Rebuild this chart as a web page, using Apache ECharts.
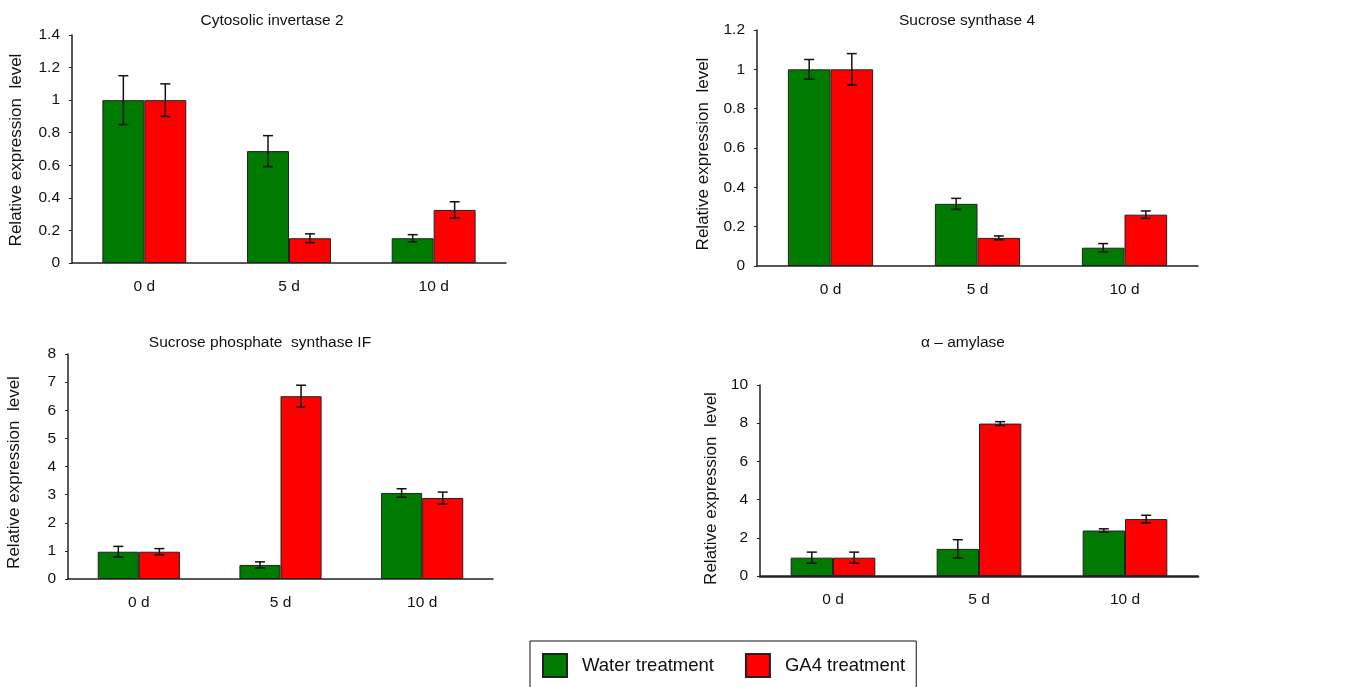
<!DOCTYPE html>
<html>
<head>
<meta charset="utf-8">
<script src="https://cdn.jsdelivr.net/npm/echarts@6/dist/echarts.min.js"></script>
<style>
html,body{margin:0;padding:0;background:#fff;}
#chart{width:1348px;height:687px;}
</style>
</head>
<body>
<div id="chart"></div>
<script>
const categories = ['0 d', '5 d', '10 d'];
const seriesNames = ['Water treatment', 'GA4 treatment'];
const titles = ['Cytosolic invertase 2', 'Sucrose synthase 4', 'Sucrose phosphate  synthase IF', '\u03b1 \u2013 amylase'];
const yName = 'Relative expression  level';

// Cytosolic invertase 2
const invWater = [1.0, 0.687, 0.152];
const invWaterSd = [0.15, 0.095, 0.022];
const invGA4 = [1.0, 0.152, 0.326];
const invGA4Sd = [0.10, 0.027, 0.05];
// Sucrose synthase 4
const susWater = [1.0, 0.316, 0.093];
const susWaterSd = [0.05, 0.028, 0.021];
const susGA4 = [1.0, 0.143, 0.261];
const susGA4Sd = [0.08, 0.01, 0.019];
// Sucrose phosphate synthase IF
const spsWater = [0.97, 0.5, 3.06];
const spsWaterSd = [0.19, 0.11, 0.15];
const spsGA4 = [0.97, 6.5, 2.88];
const spsGA4Sd = [0.11, 0.39, 0.21];
// alpha-amylase
const amyWater = [0.96, 1.42, 2.38];
const amyWaterSd = [0.29, 0.48, 0.09];
const amyGA4 = [0.96, 7.98, 2.98];
const amyGA4Sd = [0.29, 0.1, 0.2];

// y axis ranges
const yMax = [1.4, 1.2, 8, 10];
const yInterval = [0.2, 0.2, 1, 2];

const panels = [
  [invWater, invWaterSd, invGA4, invGA4Sd],
  [susWater, susWaterSd, susGA4, susGA4Sd],
  [spsWater, spsWaterSd, spsGA4, spsGA4Sd],
  [amyWater, amyWaterSd, amyGA4, amyGA4Sd]
];

const gridPos = [
  {left: 72, top: 35, width: 434, height: 228},
  {left: 757, top: 30, width: 441, height: 236},
  {left: 68, top: 354, width: 425, height: 225},
  {left: 760, top: 385, width: 438, height: 191}
];
const titlePos = [[267, 8], [962, 8], [255, 330], [958, 330]];
const nameGaps = [47, 45, 45, 40];
const namePad = [[0, 2, 0, 0], [0, 12, 0, 0], [0, 12, 0, 0], [0, 16, 0, 0]];
const colors = ['#007a00', '#ff0000'];
const FONT = '"Liberation Sans", Arial, sans-serif';

function errRender(sign) {
  return function (params, api) {
    const x = api.value(0);
    const lo = api.coord([x, api.value(1)]);
    const hi = api.coord([x, api.value(2)]);
    const bw = api.size([1, 0])[0];
    const cx = lo[0] + sign * bw * 0.145;
    const cap = 5;
    const st = {stroke: '#111', lineWidth: 1.5};
    return {
      type: 'group',
      children: [
        {type: 'line', shape: {x1: cx, y1: hi[1], x2: cx, y2: lo[1]}, style: st},
        {type: 'line', shape: {x1: cx - cap, y1: hi[1], x2: cx + cap, y2: hi[1]}, style: st},
        {type: 'line', shape: {x1: cx - cap, y1: lo[1], x2: cx + cap, y2: lo[1]}, style: st}
      ]
    };
  };
}

const grid = [], xAxis = [], yAxis = [], series = [], title = [];
panels.forEach(function (p, i) {
  grid.push(Object.assign({containLabel: false}, gridPos[i]));
  title.push({
    text: titles[i], left: titlePos[i][0], top: titlePos[i][1], textAlign: 'center',
    textStyle: {fontFamily: FONT, fontSize: 15.5, fontWeight: 'normal', color: '#111'}
  });
  xAxis.push({
    type: 'category', gridIndex: i, data: categories,
    axisLine: {lineStyle: {color: '#222', width: i === 3 ? 2.5 : 1.5}},
    axisTick: {inside: true, length: 6, lineStyle: {color: '#222', width: 1.2}},
    axisLabel: {fontFamily: FONT, fontSize: 15.5, color: '#111', margin: 16}
  });
  yAxis.push({
    type: 'value', gridIndex: i, min: 0, max: yMax[i], interval: yInterval[i],
    name: yName, nameLocation: 'middle', nameRotate: 90, nameGap: nameGaps[i],
    nameTextStyle: {fontFamily: FONT, fontSize: 17, color: '#111', padding: namePad[i]},
    axisLine: {show: true, lineStyle: {color: '#222', width: 1.5}},
    axisTick: {show: true, length: 3, lineStyle: {color: '#222'}},
    splitLine: {show: false},
    axisLabel: {fontFamily: FONT, fontSize: 15.5, color: '#111', margin: 12}
  });
  [0, 1].forEach(function (k) {
    series.push({
      type: 'bar', name: seriesNames[k], xAxisIndex: i, yAxisIndex: i,
      data: p[k * 2], barGap: '0%', barCategoryGap: '42%',
      itemStyle: {color: colors[k], borderColor: '#222', borderWidth: 1},
      emphasis: {disabled: true}
    });
  });
  [0, 1].forEach(function (k) {
    const vals = p[k * 2], sd = p[k * 2 + 1];
    series.push({
      type: 'custom', xAxisIndex: i, yAxisIndex: i, z: 5,
      renderItem: errRender(k === 0 ? -1 : 1),
      data: vals.map(function (v, j) { return [j, v - sd[j], v + sd[j]]; }),
      silent: true
    });
  });
});

const chart = echarts.init(document.getElementById('chart'));
chart.setOption({
  animation: false,
  backgroundColor: '#fff',
  title: title,
  grid: grid,
  xAxis: xAxis,
  yAxis: yAxis,
  legend: {
    data: seriesNames, left: 530, top: 641, orient: 'horizontal',
    padding: [12, 11, 14, 12], borderColor: '#111', borderWidth: 1,
    itemWidth: 24, itemHeight: 23, itemGap: 31, icon: 'rect',
    textStyle: {fontFamily: FONT, fontSize: 18.5, color: '#111', padding: [0, 0, 0, 10]}
  },
  series: series
});
</script>
</body>
</html>
